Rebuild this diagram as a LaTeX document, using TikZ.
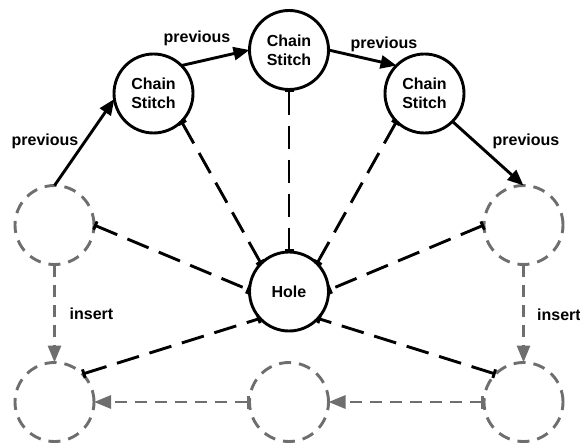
\documentclass[tikz,border=0pt]{standalone}
\usepackage{fontspec}
\setmainfont{Liberation Sans}
\usetikzlibrary{arrows.meta}
\definecolor{stgray}{RGB}{110,110,110}
\begin{document}
\begin{tikzpicture}[x=1pt,y=-1pt,
  every node/.style={font=\bfseries\fontsize{16}{19}\selectfont},
  stitch/.style={circle,draw=black,line width=2.9pt,minimum size=79pt,inner sep=0pt,outer sep=0pt,align=center},
  ghost/.style={circle,draw=stgray,line width=2.9pt,dash pattern=on 12pt off 8pt,minimum size=79pt,inner sep=0pt,outer sep=0pt},
  prevarrow/.style={draw=black,line width=2.9pt,-{Triangle[length=16pt,width=13pt]}},
  holelink/.style={draw=black,line width=2.9pt,dash pattern=on 23pt off 11pt,{Bar[width=9pt]}-{Bar[width=9pt]}},
  insertarrow/.style={draw=stgray,line width=2.9pt,dash pattern=on 12pt off 8pt,-{Triangle[length=17pt,width=13pt]}},
  rowarrow/.style={insertarrow,{Bar[width=13pt]}-{Triangle[length=17pt,width=13pt]}},
  lbl/.style={inner sep=0pt}
]
\useasboundingbox (0,0) rectangle (580,446);

% stitches of the chain
\node[stitch] (c1) at (153.5,93.5) {Chain\\Stitch};
\node[stitch] (c2) at (289,50) {Chain\\Stitch};
\node[stitch] (c3) at (424.5,93.5) {Chain\\Stitch};
\node[stitch] (hole) at (289,291.5) {Hole};

% stitches still to be made
\node[ghost] (lt) at (54.5,225) {};
\node[ghost] (rt) at (523.5,225) {};
\node[ghost] (lb) at (54.5,402) {};
\node[ghost] (mb) at (289,402) {};
\node[ghost] (rb) at (523.5,402) {};

% links into the hole
\draw[holelink] (c1.-45) -- (hole.135);
\draw[holelink] (c2.south) -- (hole.north);
\draw[holelink] (c3.-135) -- (hole.45);
\draw[holelink] (lt.east) -- (hole.178);
\draw[holelink] (rt.west) -- (hole.2);
\draw[holelink] (lb.45) -- (hole.223);
\draw[holelink] (rb.135) -- (hole.-43);

% previous links
\draw[prevarrow] (lt.north) -- (c1.188);
\draw[prevarrow] (c1.45) -- (c2.west);
\draw[prevarrow] (c2.east) -- (c3.135);
\draw[prevarrow] (c3.-45) -- (rt.north);
\node[lbl] (p1) at (45,141) {previous};
\node[lbl] (p2) at (197,38.5) {previous};
\node[lbl] (p3) at (384,44.5) {previous};
\node[lbl] (p4) at (526,141) {previous};

% insert links
\draw[insertarrow] (lt.south) -- (lb.north);
\draw[insertarrow] (rt.south) -- (rb.north);
\draw[rowarrow] (rb.west) -- (mb.east);
\draw[rowarrow] (mb.west) -- (lb.east);
\node[lbl] (i1) at (91.5,314) {insert};
\node[lbl] (i2) at (559,315) {insert};
\end{tikzpicture}
\end{document}
